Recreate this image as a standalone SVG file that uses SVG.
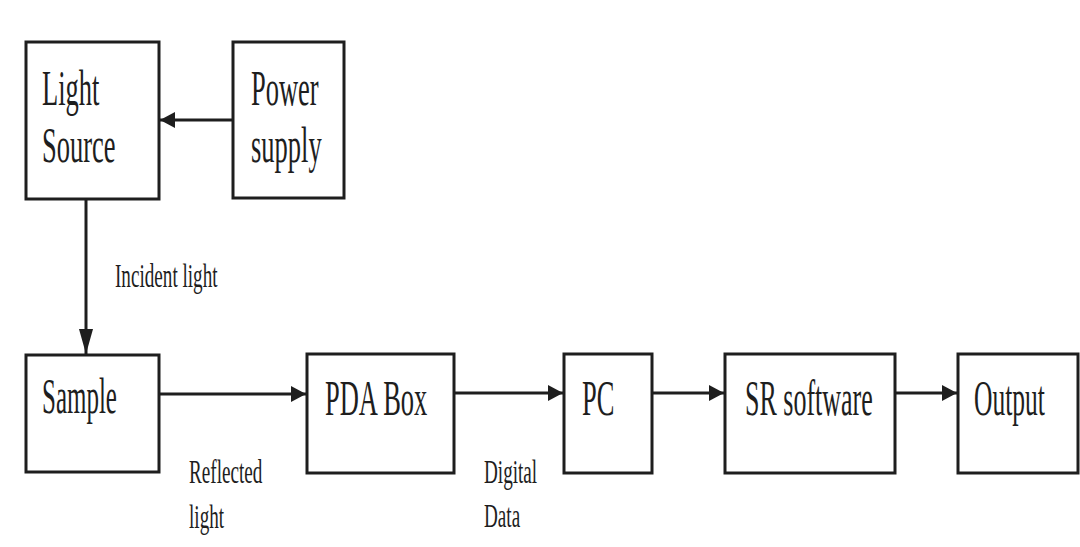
<svg xmlns="http://www.w3.org/2000/svg" width="1080" height="547" viewBox="0 0 1080 547">
  <style>
    .box { fill: #ffffff; stroke: #1e1e1e; stroke-width: 3; }
    .wire { fill: none; stroke: #1e1e1e; stroke-width: 3; }
    .big { font-family: "Liberation Serif", "Times New Roman", serif; font-size: 50px; fill: #1e1e1e; }
    .small { font-family: "Liberation Serif", "Times New Roman", serif; font-size: 33px; fill: #1e1e1e; }
  </style>
  <defs>
    <marker id="head" markerUnits="userSpaceOnUse" markerWidth="16" markerHeight="18" refX="15" refY="8" orient="auto">
      <path d="M0,0 L15,8 L0,16 Z" fill="#1e1e1e"/>
    </marker>
    <marker id="head-long" markerUnits="userSpaceOnUse" markerWidth="26" markerHeight="14" refX="25" refY="7" orient="auto">
      <path d="M0,0 L25,7 L0,14 Z" fill="#1e1e1e"/>
    </marker>
  </defs>

  <rect width="1080" height="547" fill="#ffffff"/>

  <!-- connectors -->
  <g id="connectors">
    <line class="wire" x1="233" y1="120" x2="160" y2="120" marker-end="url(#head)"/>
    <line class="wire" x1="86" y1="199" x2="86" y2="354" marker-end="url(#head-long)"/>
    <line class="wire" x1="159" y1="394" x2="306" y2="394" marker-end="url(#head)"/>
    <line class="wire" x1="454" y1="393" x2="563" y2="393" marker-end="url(#head)"/>
    <line class="wire" x1="652" y1="393" x2="724" y2="393" marker-end="url(#head)"/>
    <line class="wire" x1="895" y1="393" x2="957" y2="393" marker-end="url(#head)"/>
    <text class="small" transform="translate(115,287) scale(0.58,1)">Incident light</text>
    <text class="small" transform="translate(189,483) scale(0.58,1)">Reflected</text>
    <text class="small" transform="translate(189,528) scale(0.58,1)">light</text>
    <text class="small" transform="translate(484,483) scale(0.58,1)">Digital</text>
    <text class="small" transform="translate(484,527) scale(0.58,1)">Data</text>
  </g>

  <!-- nodes -->
  <g id="light-source">
    <rect class="box" x="26" y="42" width="133" height="157"/>
    <text class="big" transform="translate(42,105) scale(0.53,1)">Light</text>
    <text class="big" transform="translate(42,162) scale(0.53,1)">Source</text>
  </g>
  <g id="power-supply">
    <rect class="box" x="233" y="42" width="111" height="156"/>
    <text class="big" transform="translate(251,105) scale(0.53,1)">Power</text>
    <text class="big" transform="translate(251,162) scale(0.53,1)">supply</text>
  </g>
  <g id="sample">
    <rect class="box" x="26" y="355" width="133" height="117"/>
    <text class="big" transform="translate(42,413) scale(0.5,1)">Sample</text>
  </g>
  <g id="pda-box">
    <rect class="box" x="307" y="354" width="147" height="119"/>
    <text class="big" transform="translate(325,415) scale(0.53,1)">PDA Box</text>
  </g>
  <g id="pc">
    <rect class="box" x="564" y="354" width="88" height="119"/>
    <text class="big" transform="translate(582,415) scale(0.53,1)">PC</text>
  </g>
  <g id="sr-software">
    <rect class="box" x="725" y="354" width="170" height="119"/>
    <text class="big" transform="translate(745,415) scale(0.52,1)">SR software</text>
  </g>
  <g id="output">
    <rect class="box" x="958" y="354" width="120" height="119"/>
    <text class="big" transform="translate(974,415) scale(0.51,1)">Output</text>
  </g>
</svg>
